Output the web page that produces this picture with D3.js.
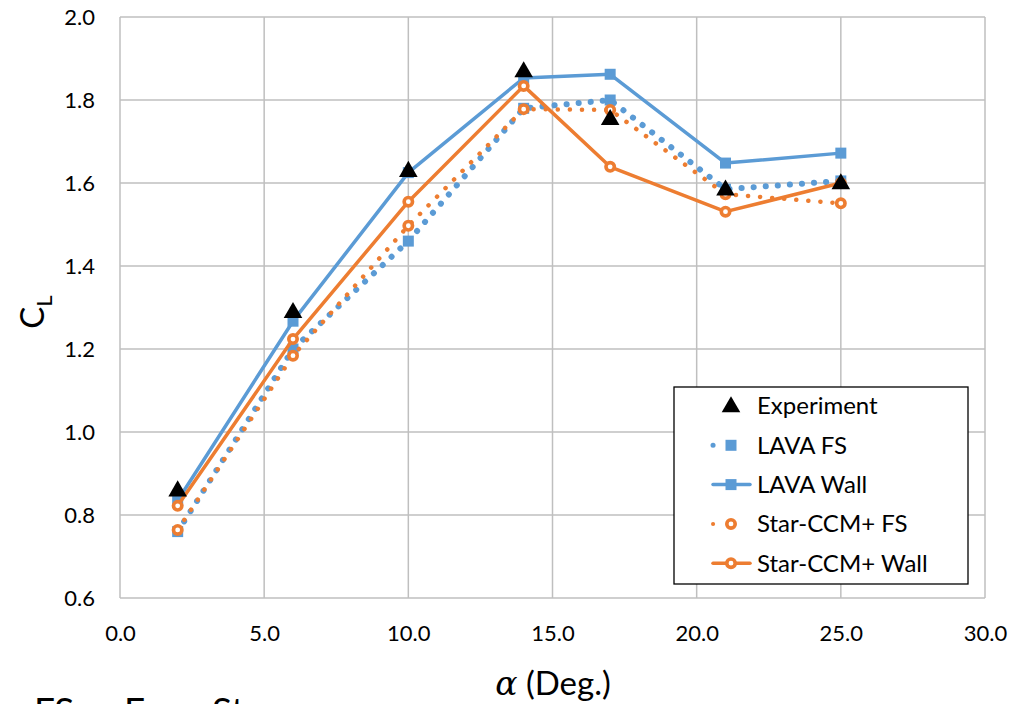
<!DOCTYPE html>
<html><head><meta charset="utf-8">
<script src="https://cdn.jsdelivr.net/npm/d3@7"></script>
<style>body{margin:0;background:#fff}svg{display:block}text{font-family:Lato,"Open Sans",sans-serif}</style>
</head><body>
<script>
const alpha = [2, 6, 10, 14, 17, 21, 25];
const experiment = [0.86, 1.29, 1.63, 1.87, 1.755, 1.585, 1.60];
const lavaFS = [0.76, 1.20, 1.46, 1.78, 1.80, 1.585, 1.605];
const lavaWall = [0.835, 1.267, 1.625, 1.853, 1.862, 1.648, 1.672];
const starFS = [0.764, 1.184, 1.497, 1.778, 1.776, 1.573, 1.551];
const starWall = [0.822, 1.224, 1.555, 1.834, 1.639, 1.531, 1.60];
const xTicks = [0, 5, 10, 15, 20, 25, 30];
const yTicks = [0.6, 0.8, 1.0, 1.2, 1.4, 1.6, 1.8, 2.0];
const seriesNames = ["Experiment", "LAVA FS", "LAVA Wall", "Star-CCM+ FS", "Star-CCM+ Wall"];

const W = 1017, H = 704;
const m = {l: 120, r: 985, t: 17, b: 598};
const blue = "#5B9BD5", orange = "#ED7D31", grid = "#BFBFBF";
const svg = d3.select("body").append("svg").attr("width", W).attr("height", H);
const x = d3.scaleLinear().domain([0, 30]).range([m.l, m.r]);
const y = d3.scaleLinear().domain([0.6, 2.0]).range([m.b, m.t]);

// grid
svg.append("g").selectAll("line").data(xTicks).join("line")
  .attr("x1", d => x(d)).attr("x2", d => x(d)).attr("y1", m.t).attr("y2", m.b)
  .attr("stroke", grid).attr("stroke-width", 1.5);
svg.append("g").selectAll("line").data(yTicks).join("line")
  .attr("y1", d => y(d)).attr("y2", d => y(d)).attr("x1", m.l).attr("x2", m.r)
  .attr("stroke", grid).attr("stroke-width", 1.5);

// axes labels
const xAxis = svg.append("g").attr("transform", `translate(0,${m.b})`)
  .call(d3.axisBottom(x).tickValues(xTicks).tickFormat(d3.format(".1f")).tickSize(0).tickPadding(27));
xAxis.select(".domain").remove();
xAxis.selectAll("text").attr("font-size", 22).attr("fill", "#000").attr("font-family", "Lato");
const yAxis = svg.append("g").attr("transform", `translate(${m.l},0)`)
  .call(d3.axisLeft(y).tickValues(yTicks).tickFormat(d3.format(".1f")).tickSize(0).tickPadding(25));
yAxis.select(".domain").remove();
yAxis.selectAll("text").attr("font-size", 22).attr("fill", "#000").attr("font-family", "Lato");

// titles
const xt = svg.append("text").attr("x", 553).attr("y", 695).attr("text-anchor", "middle").attr("font-size", 33);
xt.append("tspan").attr("font-family", "DejaVu Serif, serif").attr("font-style", "italic").text("α");
xt.append("tspan").text(" (Deg.)");
const yt = svg.append("text").attr("transform", "translate(44,312) rotate(-90)").attr("text-anchor", "middle").attr("font-size", 33);
yt.append("tspan").text("C");
yt.append("tspan").attr("font-size", 22).attr("dy", 8).text("L");

const foot = svg.append("text").attr("y", 724).attr("font-size", 37);
foot.append("tspan").attr("x", 34).text("FS");
foot.append("tspan").attr("x", 88).text("–");
foot.append("tspan").attr("x", 124).text("Free");
foot.append("tspan").attr("x", 212).text("Stream");

const line = d3.line().x((d, i) => x(alpha[i])).y(d => y(d));
const tri = d3.symbol().type(d3.symbolTriangle).size(150);

function drawSeries(vals, color, dotted, marker) {
  const g = svg.append("g");
  const dw = color === blue ? 6 : 4.5;
  g.append("path").datum(vals).attr("d", line).attr("fill", "none").attr("stroke", color)
    .attr("stroke-width", dotted ? dw : 3.5)
    .attr("stroke-linecap", dotted ? "round" : "butt")
    .attr("stroke-dasharray", dotted ? "0.1 12" : null)
    .attr("stroke-linejoin", "round");
  drawMarkers(g, vals.map((v, i) => [x(alpha[i]), y(v)]), color, marker);
}
function drawMarkers(g, pts, color, marker) {
  if (marker === "square") {
    g.selectAll("rect").data(pts).join("rect")
      .attr("x", d => d[0] - 5.5).attr("y", d => d[1] - 5.5).attr("width", 11).attr("height", 11).attr("fill", color);
  } else if (marker === "circle") {
    g.selectAll("circle").data(pts).join("circle")
      .attr("cx", d => d[0]).attr("cy", d => d[1]).attr("r", 4.2).attr("fill", "#fff").attr("stroke", color).attr("stroke-width", 3.6);
  } else {
    g.selectAll("path.m").data(pts).join("path").attr("class", "m")
      .attr("transform", d => `translate(${d[0]},${d[1]+1})`).attr("d", tri).attr("fill", "#000");
  }
}
drawSeries(lavaFS, blue, true, "square");
drawSeries(lavaWall, blue, false, "square");
drawSeries(starFS, orange, true, "circle");
drawSeries(starWall, orange, false, "circle");
drawMarkers(svg.append("g"), experiment.map((v, i) => [x(alpha[i]), y(v)]), "#000", "triangle");

// legend
const lg = svg.append("g");
lg.append("rect").attr("x", 674).attr("y", 387).attr("width", 294).attr("height", 197)
  .attr("fill", "#fff").attr("stroke", "#000").attr("stroke-width", 1.3);
const legSpec = [
  {color: "#000", dotted: null, marker: "triangle"},
  {color: blue, dotted: true, marker: "square"},
  {color: blue, dotted: false, marker: "square"},
  {color: orange, dotted: true, marker: "circle"},
  {color: orange, dotted: false, marker: "circle"}
];
seriesNames.forEach((name, i) => {
  const cy = 406 + i * 39.3;
  const s = legSpec[i];
  const g = lg.append("g");
  if (s.dotted !== null) {
    g.append("line").attr("x1", 713).attr("x2", 750).attr("y1", cy).attr("y2", cy)
      .attr("stroke", s.color).attr("stroke-width", s.dotted ? (s.color === blue ? 5 : 4) : 3.5)
      .attr("stroke-linecap", "round").attr("stroke-dasharray", s.dotted ? "0.1 18.5" : null);
  }
  drawMarkers(g, [[731, cy]], s.color, s.marker);
  lg.append("text").attr("x", 757).attr("y", cy).attr("dy", "0.35em").attr("font-size", 24).text(name);
});
</script>
</body></html>
